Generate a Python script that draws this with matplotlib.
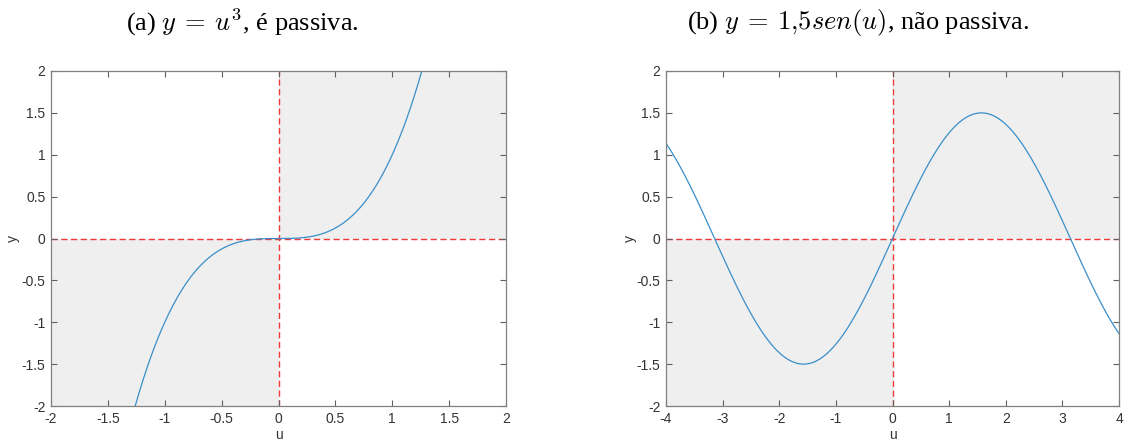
import numpy as np
import matplotlib
matplotlib.use("Agg")
import matplotlib.pyplot as plt

plt.rcParams['axes.unicode_minus'] = False
plt.rcParams['mathtext.fontset'] = 'cm'

# Data
u_a = np.linspace(-2, 2, 401)
y_a = u_a ** 3
u_b = np.linspace(-4, 4, 401)
amp_b = 1.5
y_b = amp_b * np.sin(u_b)

xticks_a = [-2, -1.5, -1, -0.5, 0, 0.5, 1, 1.5, 2]
xticks_b = [-4, -3, -2, -1, 0, 1, 2, 3, 4]
yticks = [-2, -1.5, -1, -0.5, 0, 0.5, 1, 1.5, 2]
titles = [r"(a) $y\:=\:u^3$, é passiva.", r"(b) $y\:=\:1{,}5sen(u)$, não passiva."]

W, H = 1130, 441
fig = plt.figure(figsize=(W / 100, H / 100), dpi=100)

def fmt(v):
    return '%g' % v

def make_ax(x0, x1, y0, y1, u, y, xlim, xticks, title, title_x, ylab_x):
    ax = fig.add_axes([x0 / W, (H - y1) / H, (x1 - x0) / W, (y1 - y0) / H])
    ax.set_xlim(*xlim)
    ax.set_ylim(-2, 2)
    shade = '#efefef'
    ax.fill_between([0, xlim[1]], 0, 2, color=shade, lw=0, zorder=0)
    ax.fill_between([xlim[0], 0], -2, 0, color=shade, lw=0, zorder=0)
    red = '#ee3a3a'
    ax.axhline(0, color=red, ls=(0, (4.5, 2.5)), lw=1.0, zorder=1)
    ax.axvline(0, color=red, ls=(0, (4.5, 2.5)), lw=1.0, zorder=1)
    ax.plot(u, y, color='#3a8fc9', lw=0.9, zorder=2)
    ax.set_xticks(xticks)
    ax.set_xticklabels([fmt(v) for v in xticks])
    ax.set_yticks(yticks)
    ax.set_yticklabels([fmt(v) for v in yticks])
    for s in ax.spines.values():
        s.set_color('#808080')
        s.set_linewidth(0.9)
    ax.tick_params(direction='in', top=True, right=True, length=4, width=0.8,
                   color='#606060', labelsize=10, labelcolor='#333333', pad=4)
    for lab in ax.get_xticklabels() + ax.get_yticklabels():
        lab.set_family('Liberation Sans')
    fig.text(((x0 + x1) / 2) / W, 1 - 435 / H, 'u', ha='center', va='center',
             fontsize=10, color='#333333', family='Liberation Sans')
    fig.text(ylab_x / W, 1 - 238 / H, 'y', ha='center', va='center', rotation=90,
             fontsize=10, color='#333333', family='Liberation Sans')
    fig.text(title_x / W, 1 - 22 / H, title, ha='center', va='center',
             fontsize=19, family='Liberation Serif', color='black')
    return ax

make_ax(51, 506, 71, 406, u_a, y_a, (-2, 2), xticks_a, titles[0], 242, 13)
make_ax(666, 1119, 71, 406, u_b, y_b, (-4, 4), xticks_b, titles[1], 858, 630)

fig.savefig('out.png', dpi=100)
